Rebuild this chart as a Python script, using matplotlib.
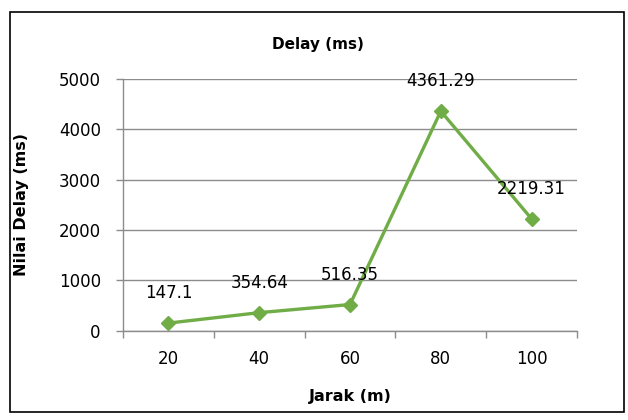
import matplotlib
matplotlib.use('Agg')
import matplotlib.pyplot as plt
from matplotlib.patches import Rectangle

# data
jarak  = ['20', '40', '60', '80', '100']
delay  = [147.1, 354.64, 516.35, 4361.29, 2219.31]
yticks = [0, 1000, 2000, 3000, 4000, 5000]

green = '#70ad47'
grey  = '#8c8c8c'

plt.rcParams['font.family'] = 'DejaVu Sans'

fig = plt.figure(figsize=(6.28, 4.2), dpi=100)
ax = fig.add_axes([123/628, 1 - 330.5/420, (577-123)/628, (330.5-79)/420])

x = list(range(len(jarak)))
ax.plot(x, delay, color=green, lw=2.4, marker='D', ms=7.5, zorder=3)

# data labels above points
for xi, v in zip(x, delay):
    ax.annotate(f'{v:g}', (xi, v), xytext=(0, 18), textcoords='offset points',
                ha='center', va='baseline', fontsize=12, color='black', zorder=4)

ax.set_xlim(-0.5, len(jarak) - 0.5)
ax.set_ylim(0, 5000)
ax.set_yticks(yticks)
ax.set_xticks(x)
ax.set_xticklabels(jarak)
# category ticks sit between the categories
ax.set_xticks([i - 0.5 for i in range(len(jarak) + 1)], minor=True)
ax.tick_params(axis='x', which='major', length=0, pad=14, labelsize=12)
ax.tick_params(axis='x', which='minor', length=5, width=1, color=grey, direction='out')
ax.tick_params(axis='y', length=5, width=1, color=grey, direction='out', pad=11, labelsize=12)

ax.grid(axis='y', color=grey, lw=1)
ax.set_axisbelow(True)
for s in ['top', 'right']:
    ax.spines[s].set_visible(False)
for s in ['left', 'bottom']:
    ax.spines[s].set_color(grey)
    ax.spines[s].set_linewidth(1)

fig.text(318/628, 1 - 45/420, 'Delay (ms)', ha='center', va='center',
         fontsize=11, fontweight='bold')
fig.text(350/628, 1 - 396/420, 'Jarak (m)', ha='center', va='center',
         fontsize=11.5, fontweight='bold')
fig.text(22/628, 1 - 205/420, 'Nilai Delay (ms)', ha='center', va='center',
         rotation=90, fontsize=11.5, fontweight='bold')

# chart border
fig.patches.append(Rectangle((10/628, 1 - 412/420), (624-10)/628, (412-12)/420,
                             transform=fig.transFigure, fill=False,
                             edgecolor='black', lw=1.2))

fig.savefig('out.png', dpi=100)
